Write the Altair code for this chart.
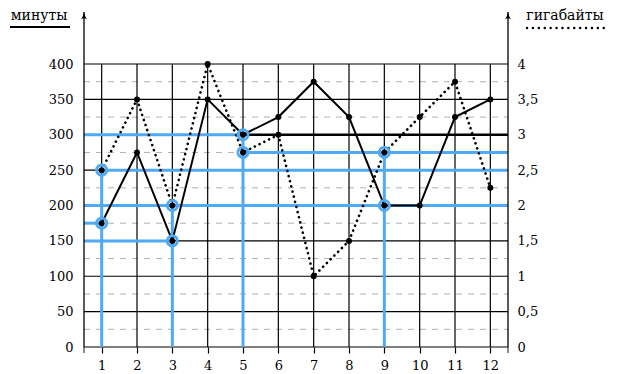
import altair as alt
import pandas as pd

# ---- data ----
months = list(range(1, 13))
minutes = [175, 275, 150, 350, 300, 325, 375, 325, 200, 200, 325, 350]
gigabytes = [2.5, 3.5, 2, 4, 2.75, 3, 1, 1.5, 2.75, 3.25, 3.75, 2.25]
left_ticks = [0, 50, 100, 150, 200, 250, 300, 350, 400]
right_tick_labels = ["0", "0,5", "1", "1,5", "2", "2,5", "3", "3,5", "4"]
minor_ticks = [25, 75, 125, 175, 225, 275, 325, 375]
highlight_months = [1, 3, 5, 9]
emphasis_month = 5          # reading 3 GB at the 300 line
left_title = "минуты"
right_title = "гигабайты"

GB_TO_MIN = 100            # 1 GB on the right axis = 100 on the left axis
X_MIN, X_MAX = 0.5, 12.5
Y_TOP = 473.5
BLUE = "#4FA9F3"
FONT = "DejaVu Serif"
TICK_FS = 13
TITLE_FS = 14

xs = alt.Scale(domain=[X_MIN, X_MAX], nice=False, zero=False)
ys = alt.Scale(domain=[0, Y_TOP], nice=False, zero=False)

df = pd.DataFrame({"month": months, "minutes": minutes, "gb": gigabytes})
df["gb_scaled"] = df["gb"] * GB_TO_MIN

vgrid = pd.DataFrame({"x1": months, "x2": months, "y1": 0, "y2": max(left_ticks)})
hgrid = pd.DataFrame({"x1": X_MIN, "x2": X_MAX, "y1": left_ticks, "y2": left_ticks})
dgrid = pd.DataFrame({"x1": X_MIN, "x2": X_MAX, "y1": minor_ticks, "y2": minor_ticks})

# highlight guide segments, built from the series
segs = []
for m in highlight_months:
    vm = minutes[m - 1]
    vg = gigabytes[m - 1] * GB_TO_MIN
    segs.append((X_MIN, m, vm, vm))          # minutes -> left axis
    segs.append((m, X_MAX, vg, vg))          # gigabytes -> right axis
    segs.append((m, m, 0, max(vm, vg)))      # vertical down to x axis
blue = pd.DataFrame(segs, columns=["x1", "x2", "y1", "y2"])
circ = pd.DataFrame(
    [(m, minutes[m - 1]) for m in highlight_months]
    + [(m, gigabytes[m - 1] * GB_TO_MIN) for m in highlight_months],
    columns=["x", "y"],
)
emph_val = minutes[emphasis_month - 1]
emph = pd.DataFrame({"x1": [emphasis_month], "x2": [X_MAX], "y1": [emph_val], "y2": [emph_val]})
axes_df = pd.DataFrame({"x1": [X_MIN, X_MAX], "x2": [X_MIN, X_MAX], "y1": 0, "y2": Y_TOP})


def seg(data, **kw):
    return alt.Chart(data).mark_rule(**kw).encode(
        x=alt.X("x1:Q", scale=xs, axis=None),
        x2="x2:Q",
        y=alt.Y("y1:Q", scale=ys, axis=None),
        y2="y2:Q",
    )


right_expr = " : ".join(
    f"datum.value == {v} ? '{lab}'" for v, lab in zip(left_ticks, right_tick_labels)
) + " : ''"

x_axis = alt.Axis(
    values=months, domain=False, ticks=True, tickSize=6, tickColor="black", tickWidth=1.2,
    grid=False, labelPadding=6, labelFont=FONT, labelFontSize=TICK_FS, labelColor="black",
    title=None, labelFlush=False)

dashed = alt.Chart(dgrid).mark_rule(color="#b0b0b0", strokeWidth=1, strokeDash=[6, 6]).encode(
    x=alt.X("x1:Q", scale=xs, axis=x_axis),
    x2="x2:Q",
    y=alt.Y("y1:Q", scale=ys, axis=alt.Axis(
        orient="right", values=left_ticks, labelExpr=right_expr, domain=False, ticks=False,
        grid=False, labelPadding=9, labelFont=FONT, labelFontSize=TICK_FS, labelColor="black",
        title=None)),
)

hsolid = alt.Chart(hgrid).mark_rule(color="black", strokeWidth=1.2).encode(
    x=alt.X("x1:Q", scale=xs, axis=None),
    x2="x2:Q",
    y=alt.Y("y1:Q", scale=ys, axis=alt.Axis(
        orient="left", values=left_ticks, domain=False, ticks=False, grid=False,
        labelPadding=11, labelFont=FONT, labelFontSize=TICK_FS, labelColor="black", title=None)),
)

vsolid = seg(vgrid, color="black", strokeWidth=1.2)
emph_line = seg(emph, color="black", strokeWidth=2.6)
blue_lines = seg(blue, color=BLUE, strokeWidth=3)
axis_lines = seg(axes_df, color="black", strokeWidth=1.3)
axis_tail = alt.Chart(pd.DataFrame({"x": [X_MIN, X_MAX], "y": [0, 0]})).mark_tick(
    color="black", orient="vertical", size=6, thickness=1.3, yOffset=3).encode(
    x=alt.X("x:Q", scale=xs, axis=None),
    y=alt.Y("y:Q", scale=ys, axis=None),
)

arrow_shape = ("M0,-1 C0.08,-0.4 0.35,0.35 0.75,0.85 C0.35,0.6 0.12,0.55 0,0.55 "
               "C-0.12,0.55 -0.35,0.6 -0.75,0.85 C-0.35,0.35 -0.08,-0.4 0,-1 Z")
arrows = alt.Chart(pd.DataFrame({"x": [X_MIN, X_MAX], "y": [Y_TOP, Y_TOP]})).mark_point(
    shape=arrow_shape, filled=True, color="black", size=70, yOffset=4, opacity=1).encode(
    x=alt.X("x:Q", scale=xs, axis=None),
    y=alt.Y("y:Q", scale=ys, axis=None),
)

min_line = alt.Chart(df).mark_line(color="black", strokeWidth=2).encode(
    x=alt.X("month:Q", scale=xs, axis=None),
    y=alt.Y("minutes:Q", scale=ys, axis=None),
)
gb_line = alt.Chart(df).mark_line(color="black", strokeWidth=2.6, strokeDash=[0.1, 5.2],
                                  strokeCap="round").encode(
    x=alt.X("month:Q", scale=xs, axis=None),
    y=alt.Y("gb_scaled:Q", scale=ys, axis=None),
)
circles = alt.Chart(circ).mark_point(shape="circle", filled=False, color=BLUE, size=105,
                                     strokeWidth=2.8, opacity=1).encode(
    x=alt.X("x:Q", scale=xs, axis=None),
    y=alt.Y("y:Q", scale=ys, axis=None),
)
dots_min = alt.Chart(df).mark_point(shape="circle", filled=True, color="black", size=36, opacity=1).encode(
    x=alt.X("month:Q", scale=xs, axis=None),
    y=alt.Y("minutes:Q", scale=ys, axis=None),
)
dots_gb = alt.Chart(df).mark_point(shape="circle", filled=True, color="black", size=36, opacity=1).encode(
    x=alt.X("month:Q", scale=xs, axis=None),
    y=alt.Y("gb_scaled:Q", scale=ys, axis=None),
)

# legend-style titles at the top corners
lt_df = pd.DataFrame({"t": [left_title]})
rt_df = pd.DataFrame({"t": [right_title]})
left_text = alt.Chart(lt_df).mark_text(font=FONT, fontSize=TITLE_FS, color="black", baseline="middle",
                                       align="center").encode(
    text="t:N", x=alt.value(-45), y=alt.value(4))
right_text = alt.Chart(rt_df).mark_text(font=FONT, fontSize=TITLE_FS, color="black", baseline="middle",
                                        align="center").encode(
    text="t:N", x=alt.value(481), y=alt.value(4))
left_key = alt.Chart(lt_df).mark_rule(color="black", strokeWidth=2).encode(
    x=alt.value(-74), x2=alt.value(-14), y=alt.value(15))
right_key = alt.Chart(rt_df).mark_rule(color="black", strokeWidth=2.4, strokeDash=[0.1, 5.8],
                                       strokeCap="round").encode(
    x=alt.value(443), x2=alt.value(523), y=alt.value(16))

chart = alt.layer(
    dashed, hsolid, vsolid, emph_line, blue_lines, axis_lines, axis_tail, arrows,
    min_line, gb_line, circles, dots_min, dots_gb,
    left_text, right_text, left_key, right_key,
).resolve_axis(x="independent", y="independent").properties(
    width=424, height=335,
    autosize=alt.AutoSizeParams(type="none"),
    padding={"left": 84, "top": 12, "right": 125, "bottom": 27},
    background="white",
).configure_view(stroke=None)

chart.save("out.html", embed_options={"renderer": "svg", "actions": False})
